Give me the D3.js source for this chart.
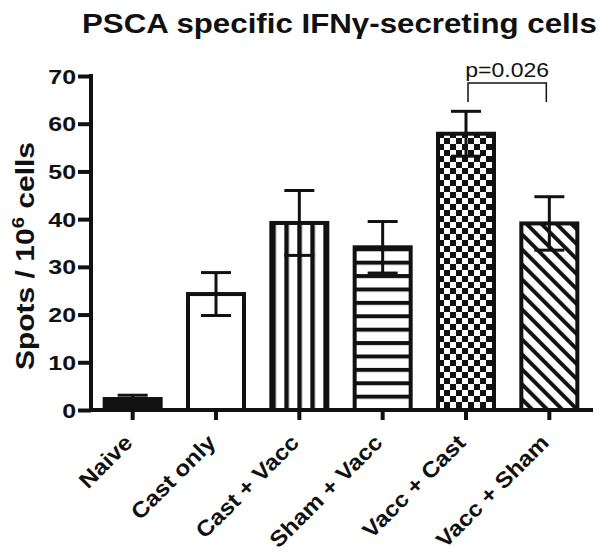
<!DOCTYPE html>
<html>
<head>
<meta charset="utf-8">
<script src="https://cdn.jsdelivr.net/npm/d3@7"></script>
<style>
  body { margin: 0; background: #fff; }
  text { font-family: "Liberation Sans", Arial, sans-serif; fill: #111; }
</style>
</head>
<body>
<svg id="chart" width="611" height="554"></svg>
<script>
// valeurs
var groups = ["Naive", "Cast only", "Cast + Vacc", "Sham + Vacc", "Vacc + Cast", "Vacc + Sham"];
var means = [2.3, 24.3, 39.2, 34.1, 57.9, 39.1];
var sems = [0.8, 4.5, 6.8, 5.4, 4.7, 5.6];
var yTicks = [0, 10, 20, 30, 40, 50, 60, 70];
var pLabel = "p=0.026";
var pPair = ["Vacc + Cast", "Vacc + Sham"];

var ink = "#111";
var svg = d3.select("#chart");

var x = d3.scaleBand()
  .domain(groups)
  .range([91, 591])
  .paddingInner(0.328)
  .paddingOuter(0.164);

var y = d3.scaleLinear()
  .domain([0, 70])
  .range([410, 76]);

var data = groups.map((g, i) => ({ name: g, mean: means[i], sem: sems[i] }));

// motifs de remplissage
var defs = svg.append("defs");
function makePattern(id, w, h, draw, transform) {
  var p = defs.append("pattern")
    .attr("id", id)
    .attr("patternUnits", "userSpaceOnUse")
    .attr("width", w)
    .attr("height", h);
  if (transform) p.attr("patternTransform", transform);
  p.append("rect").attr("width", w).attr("height", h).attr("fill", "#fff");
  draw(p);
  return p;
}
makePattern("vstripe", 13, 10, p => p.append("rect").attr("x", 0).attr("width", 4.5).attr("height", 10).attr("fill", ink))
  .attr("x", x("Cast + Vacc"));
makePattern("hstripe", 10, 13.4, p => p.append("rect").attr("y", 0).attr("width", 10).attr("height", 4).attr("fill", ink))
  .attr("y", y(means[3]));
makePattern("checker", 12, 12, p => {
  p.append("rect").attr("width", 6).attr("height", 6).attr("fill", ink);
  p.append("rect").attr("x", 6).attr("y", 6).attr("width", 6).attr("height", 6).attr("fill", ink);
}).attr("x", x("Vacc + Cast"));
makePattern("diag", 10.6, 10, p => p.append("rect").attr("width", 4).attr("height", 10).attr("fill", ink), "rotate(-45)");

var fillFor = {
  "Naive": ink,
  "Cast only": "#fff",
  "Cast + Vacc": "url(#vstripe)",
  "Sham + Vacc": "url(#hstripe)",
  "Vacc + Cast": "url(#checker)",
  "Vacc + Sham": "url(#diag)"
};

// barres
svg.append("g")
  .selectAll("rect")
  .data(data)
  .join("rect")
  .attr("x", d => x(d.name))
  .attr("width", x.bandwidth())
  .attr("y", d => y(d.mean))
  .attr("height", d => y(0) - y(d.mean))
  .attr("fill", d => fillFor[d.name])
  .attr("stroke", ink)
  .attr("stroke-width", 4);

// barres d'erreur
var err = svg.append("g").attr("stroke", ink).attr("stroke-width", 3);
err.selectAll("line.v")
  .data(data)
  .join("line")
  .attr("class", "v")
  .attr("x1", d => x(d.name) + x.bandwidth() / 2)
  .attr("x2", d => x(d.name) + x.bandwidth() / 2)
  .attr("y1", d => y(d.mean + d.sem))
  .attr("y2", d => y(d.mean - d.sem));
[1, -1].forEach(s => {
  err.selectAll("line.c" + (s > 0 ? "u" : "d"))
    .data(data)
    .join("line")
    .attr("class", "c" + (s > 0 ? "u" : "d"))
    .attr("x1", d => x(d.name) + x.bandwidth() / 2 - 15)
    .attr("x2", d => x(d.name) + x.bandwidth() / 2 + 15)
    .attr("y1", d => y(d.mean + s * d.sem))
    .attr("y2", d => y(d.mean + s * d.sem));
});

// axe y
var yAxis = svg.append("g")
  .attr("transform", "translate(91,0)")
  .call(d3.axisLeft(y).tickValues(yTicks).tickSize(13).tickSizeOuter(0).tickPadding(2));
yAxis.select(".domain").remove();
yAxis.selectAll(".tick line").attr("stroke", ink).attr("stroke-width", 4);
yAxis.selectAll(".tick text")
  .attr("font-size", 19.5)
  .attr("font-weight", "bold")
  .attr("dy", "0.36em")
  .attr("transform", "translate(-15,0) scale(1.28,1) translate(15,0)");

svg.append("line")
  .attr("x1", 91).attr("x2", 91)
  .attr("y1", y(70) - 2).attr("y2", y(0) + 2)
  .attr("stroke", ink).attr("stroke-width", 4);

// axe x
var xAxis = svg.append("g")
  .attr("transform", "translate(0," + y(0) + ")")
  .call(d3.axisBottom(x).tickSize(10).tickSizeOuter(0));
xAxis.select(".domain").remove();
xAxis.selectAll(".tick line").attr("stroke", ink).attr("stroke-width", 4);
xAxis.selectAll(".tick text").remove();

svg.append("line")
  .attr("x1", 89).attr("x2", 593)
  .attr("y1", y(0)).attr("y2", y(0))
  .attr("stroke", ink).attr("stroke-width", 4);

svg.append("g")
  .selectAll("text")
  .data(groups)
  .join("text")
  .attr("text-anchor", "end")
  .attr("font-size", 22)
  .attr("font-weight", "bold")
  .attr("transform", d => "translate(" + (x(d) + x.bandwidth() / 2 + 1) + ",444) rotate(-45) scale(1.1,1)")
  .text(d => d);

// titre de l'axe y
var yt = svg.append("text")
  .attr("text-anchor", "middle")
  .attr("font-size", 25)
  .attr("font-weight", "bold")
  .attr("transform", "translate(34,256) rotate(-90) scale(1.2,1)");
yt.append("tspan").text("Spots / 10");
yt.append("tspan").attr("font-size", 17).attr("dy", -10).text("6");
yt.append("tspan").attr("dy", 10).text(" cells");

// titre
var title = svg.append("text")
  .attr("font-size", 28)
  .attr("font-weight", "bold")
  .text("PSCA specific IFNγ-secreting cells");
var tw = title.node().getComputedTextLength();
title.attr("transform", "translate(82,33) scale(" + (515 / tw) + ",1)");

// significativité
var xa = x(pPair[0]) + x.bandwidth() / 2 + 2;
var xb = x(pPair[1]) + x.bandwidth() / 2 - 3;
svg.append("path")
  .attr("d", "M" + xa + ",102V83H" + xb + "V102")
  .attr("fill", "none")
  .attr("stroke", ink)
  .attr("stroke-width", 1.5);
svg.append("text")
  .attr("text-anchor", "middle")
  .attr("font-size", 20)
  .attr("transform", "translate(" + ((xa + xb) / 2) + ",77) scale(1.15,1)")
  .text(pLabel);
</script>
</body>
</html>
